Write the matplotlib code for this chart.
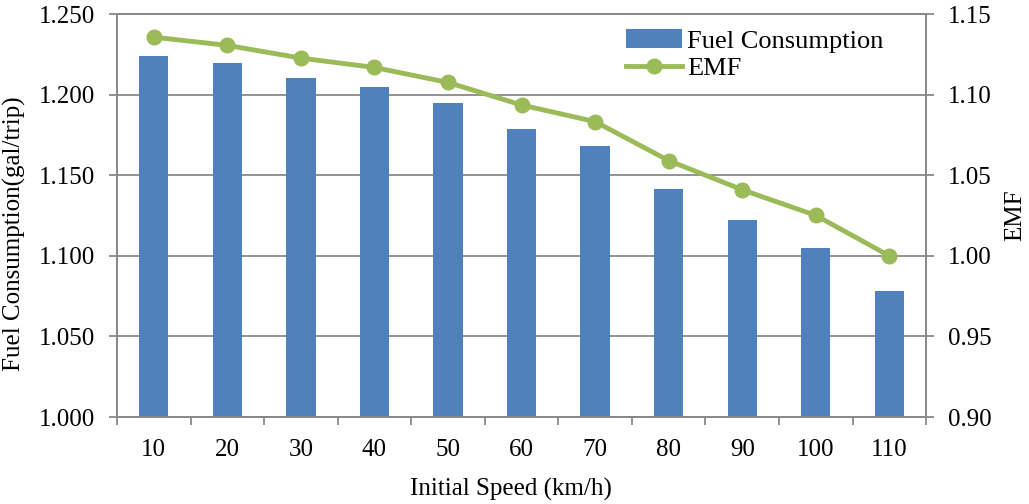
import matplotlib.pyplot as plt
import numpy as np

# Initial speed categories (km/h)
speeds = ["10", "20", "30", "40", "50", "60", "70", "80", "90", "100", "110"]

# Fuel consumption per trip (gal/trip)
fuel = [1.224, 1.2195, 1.2106, 1.2046, 1.1947, 1.1785, 1.1679, 1.1417, 1.122, 1.1047, 1.078]

# EMF values (right axis)
emf = [1.1357, 1.1306, 1.1227, 1.1169, 1.1076, 1.0936, 1.0833, 1.0591, 1.041, 1.0251, 1.000]

left_ticks = [1.000, 1.050, 1.100, 1.150, 1.200, 1.250]
right_ticks = [0.90, 0.95, 1.00, 1.05, 1.10, 1.15]

plt.rcParams["font.family"] = ["Liberation Serif", "DejaVu Serif"]

bar_color = "#4F81BD"
line_color = "#9BBB59"
grid_color = "#898989"
fs = 18

fig = plt.figure(figsize=(10.29, 5.04), dpi=100)
ax = fig.add_axes([0.1137, 0.1726, 0.7863, 0.7994])

x = np.arange(len(speeds))
bars = ax.bar(x, fuel, width=0.4, color=bar_color, zorder=2,
              label="Fuel Consumption")

ax.set_xlim(-0.5, len(speeds) - 0.5)
ax.set_ylim(1.0, 1.25)
ax.set_yticks(left_ticks)
ax.set_yticklabels([f"{v:.3f}" for v in left_ticks])
ax.yaxis.grid(True, color=grid_color, linewidth=1.3, zorder=0)
ax.set_axisbelow(True)

# category labels in the middle, tick marks between categories
ax.set_xticks(x)
ax.set_xticklabels(speeds)
ax.set_xticks(np.arange(-0.5, len(speeds)), minor=True)
ax.tick_params(axis="x", which="major", length=0, pad=16, labelsize=fs)
ax.tick_params(axis="x", which="minor", length=6, color=grid_color, width=1.3)
ax.tick_params(axis="y", length=6, color=grid_color, width=1.3, labelsize=fs, pad=10)

for side in ["left", "right", "bottom", "top"]:
    ax.spines[side].set_color(grid_color)
    ax.spines[side].set_linewidth(1.3)

ax.set_xlabel("Initial Speed (km/h)", fontsize=fs)
ax.xaxis.set_label_coords(0.487, -0.152)
ax.set_ylabel("Fuel Consumption(gal/trip)", fontsize=fs)
ax.yaxis.set_label_coords(-0.112, 0.454)

ax2 = ax.twinx()
line, = ax2.plot(x, emf, color=line_color, linewidth=3.5, marker="o",
                 markersize=10.5, label="EMF", zorder=3)
ax2.set_ylim(0.90, 1.15)
ax2.set_yticks(right_ticks)
ax2.set_yticklabels([f"{v:.2f}" for v in right_ticks])
ax2.tick_params(axis="y", length=6, color=grid_color, width=1.3, labelsize=fs, pad=10)
for side in ["left", "right", "bottom", "top"]:
    ax2.spines[side].set_color(grid_color)
    ax2.spines[side].set_linewidth(1.3)
ax2.set_ylabel("EMF", fontsize=fs)
ax2.yaxis.set_label_coords(1.096, 0.5)

ax2.legend([bars, line], ["Fuel Consumption", "EMF"], loc="upper right",
           bbox_to_anchor=(0.96, 0.99), frameon=False, fontsize=19,
           handlelength=2.1, handleheight=0.75, handletextpad=0.2,
           labelspacing=0.15, borderaxespad=0.0)

fig.savefig("out.png", dpi=100)
